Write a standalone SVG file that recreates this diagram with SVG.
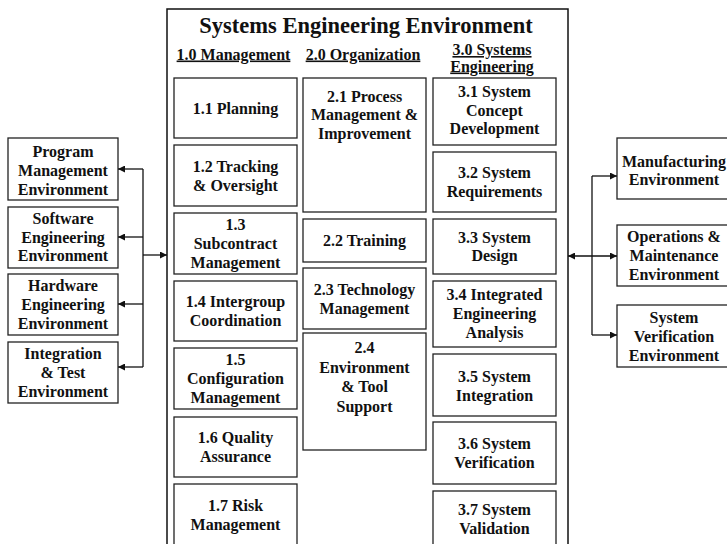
<svg xmlns="http://www.w3.org/2000/svg" width="727" height="544" viewBox="0 0 727 544">
<defs>
<style>
text{font-family:"Liberation Serif","Times New Roman",serif;font-weight:bold;font-size:16px;fill:#111;text-anchor:middle}
.title{font-size:22.5px}
.hdr{text-decoration:underline}
.box{fill:#fff;stroke:#222;stroke-width:1.3}
.main{fill:#fff;stroke:#111;stroke-width:1.5}
.conn{fill:none;stroke:#111;stroke-width:1.3}
</style>
<marker id="ah" viewBox="0 0 10 10" refX="10" refY="5" markerWidth="8" markerHeight="7" markerUnits="userSpaceOnUse" orient="auto-start-reverse">
<path d="M0,0 L10,5 L0,10 Z" fill="#111"/>
</marker>
</defs>
<g id="main">
<rect class="main" x="167" y="9" width="401" height="560"/>
<text class="title" x="366" y="33">Systems Engineering Environment</text>
<text class="hdr" x="233.5" y="59.5">1.0 Management</text>
<text class="hdr" x="363" y="59.5">2.0 Organization</text>
<text class="hdr" x="492" y="55">3.0 Systems</text>
<text class="hdr" x="492" y="71.5">Engineering</text>
</g>
<g id="n1-1"><rect class="box" x="174" y="78" width="123" height="60"/><text x="235.5" y="113.5">1.1 Planning</text></g>
<g id="n1-2"><rect class="box" x="174" y="145" width="123" height="61"/><text x="235.5" y="171.5">1.2 Tracking</text><text x="235.5" y="190.5">&amp; Oversight</text></g>
<g id="n1-3"><rect class="box" x="174" y="213" width="123" height="61"/><text x="235.5" y="230">1.3</text><text x="235.5" y="249">Subcontract</text><text x="235.5" y="268">Management</text></g>
<g id="n1-4"><rect class="box" x="174" y="281" width="123" height="60"/><text x="235.5" y="307">1.4 Intergroup</text><text x="235.5" y="326">Coordination</text></g>
<g id="n1-5"><rect class="box" x="174" y="348" width="123" height="61"/><text x="235.5" y="365">1.5</text><text x="235.5" y="384">Configuration</text><text x="235.5" y="403">Management</text></g>
<g id="n1-6"><rect class="box" x="174" y="417" width="123" height="60"/><text x="235.5" y="443">1.6 Quality</text><text x="235.5" y="462">Assurance</text></g>
<g id="n1-7"><rect class="box" x="174" y="484" width="123" height="80"/><text x="235.5" y="511">1.7 Risk</text><text x="235.5" y="530">Management</text></g>
<g id="n2-1"><rect class="box" x="303" y="78" width="123" height="134"/><text x="364.5" y="101.5">2.1 Process</text><text x="364.5" y="120">Management &amp;</text><text x="364.5" y="139">Improvement</text></g>
<g id="n2-2"><rect class="box" x="303" y="219" width="123" height="43"/><text x="364.5" y="246">2.2 Training</text></g>
<g id="n2-3"><rect class="box" x="303" y="268" width="123" height="61"/><text x="364.5" y="295">2.3 Technology</text><text x="364.5" y="314">Management</text></g>
<g id="n2-4"><rect class="box" x="303" y="333" width="123" height="117"/><text x="364.5" y="353">2.4</text><text x="364.5" y="372.5">Environment</text><text x="364.5" y="392">&amp; Tool</text><text x="364.5" y="411.5">Support</text></g>
<g id="n3-1"><rect class="box" x="433" y="78" width="123" height="67"/><text x="494.5" y="97">3.1 System</text><text x="494.5" y="115.5">Concept</text><text x="494.5" y="134">Development</text></g>
<g id="n3-2"><rect class="box" x="433" y="152" width="123" height="60"/><text x="494.5" y="177.5">3.2 System</text><text x="494.5" y="196.5">Requirements</text></g>
<g id="n3-3"><rect class="box" x="433" y="219" width="123" height="55"/><text x="494.5" y="242.5">3.3 System</text><text x="494.5" y="261">Design</text></g>
<g id="n3-4"><rect class="box" x="433" y="281" width="123" height="66"/><text x="494.5" y="300">3.4 Integrated</text><text x="494.5" y="319">Engineering</text><text x="494.5" y="338">Analysis</text></g>
<g id="n3-5"><rect class="box" x="433" y="354" width="123" height="62"/><text x="494.5" y="382">3.5 System</text><text x="494.5" y="400.5">Integration</text></g>
<g id="n3-6"><rect class="box" x="433" y="422" width="123" height="62"/><text x="494.5" y="449">3.6 System</text><text x="494.5" y="468">Verification</text></g>
<g id="n3-7"><rect class="box" x="433" y="491" width="123" height="80"/><text x="494.5" y="514.5">3.7 System</text><text x="494.5" y="533.5">Validation</text></g>
<g id="pme"><rect class="box" x="8" y="138" width="110" height="62"/><text x="63" y="156.5">Program</text><text x="63" y="175.5">Management</text><text x="63" y="194.5">Environment</text></g>
<g id="swe"><rect class="box" x="8" y="207" width="110" height="61"/><text x="63" y="223.5">Software</text><text x="63" y="242.5">Engineering</text><text x="63" y="261">Environment</text></g>
<g id="hwe"><rect class="box" x="8" y="274" width="110" height="61"/><text x="63" y="291">Hardware</text><text x="63" y="310">Engineering</text><text x="63" y="329">Environment</text></g>
<g id="ite"><rect class="box" x="8" y="342" width="110" height="61"/><text x="63" y="359">Integration</text><text x="63" y="378">&amp; Test</text><text x="63" y="397">Environment</text></g>
<g id="mfe"><rect class="box" x="617" y="138" width="115" height="61"/><text x="674" y="166.5">Manufacturing</text><text x="674" y="185">Environment</text></g>
<g id="ome"><rect class="box" x="617" y="225" width="115" height="61"/><text x="674" y="242">Operations &amp;</text><text x="674" y="261">Maintenance</text><text x="674" y="279.5">Environment</text></g>
<g id="sve"><rect class="box" x="617" y="305" width="115" height="62"/><text x="674" y="323">System</text><text x="674" y="342">Verification</text><text x="674" y="360.5">Environment</text></g>
<g id="connectors">
<path class="conn" d="M143,169 V367"/>
<path class="conn" d="M143,169 H118" marker-end="url(#ah)"/>
<path class="conn" d="M143,237 H118" marker-end="url(#ah)"/>
<path class="conn" d="M143,304 H118" marker-end="url(#ah)"/>
<path class="conn" d="M143,367 H118" marker-end="url(#ah)"/>
<path class="conn" d="M143,255 H167" marker-end="url(#ah)"/>
<path class="conn" d="M568,256 H617" marker-start="url(#ah)" marker-end="url(#ah)"/>
<path class="conn" d="M592,176 V335"/>
<path class="conn" d="M592,176 H617" marker-end="url(#ah)"/>
<path class="conn" d="M592,335 H617" marker-end="url(#ah)"/>
</g>
</svg>
